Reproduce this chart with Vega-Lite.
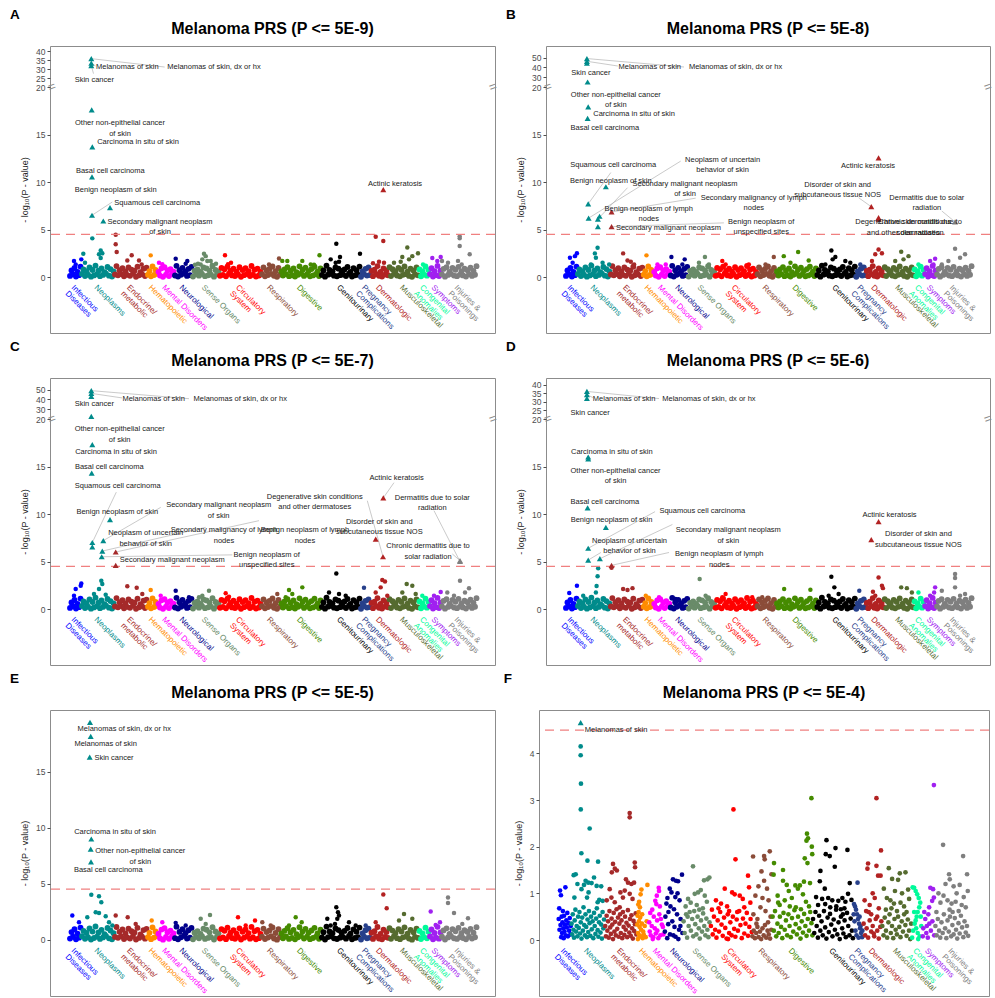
{
"$schema":"https://vega.github.io/schema/vega-lite/v6.json",
"background":"white",
"padding":{"left":10,"top":8,"right":0,"bottom":0},
"config":{
 "font":"Liberation Sans",
 "view":{"stroke":"#8C8C8C","strokeWidth":1},
 "axisY":{"grid":false,"domain":false,"tickSize":3,"tickColor":"#4D4D4D","labelFontSize":8.5,"labelColor":"#4D4D4D","labelPadding":2,"titleFontSize":9,"titleFontWeight":"normal","titleColor":"#1A1A1A","titlePadding":6},
 "title":{"fontSize":16,"fontWeight":"bold","color":"#000000"},
 "circle":{"size":20,"opacity":1},
 "concat":{"spacing":8}
},
"datasets":{
"cats":[{"n":"Infectious\nDiseases","x":25.3,"ya":-0.7,"ye":-0.62,"yf":-0.15},{"n":"Neoplasms","x":48.3,"ya":-0.7,"ye":-0.62,"yf":-0.15},{"n":"Endocrine/\nmetabolic","x":80.8,"ya":-0.7,"ye":-0.62,"yf":-0.15},{"n":"Hematopoietic","x":102.5,"ya":-0.7,"ye":-0.62,"yf":-0.15},{"n":"Mental Disorders","x":116.1,"ya":-0.7,"ye":-0.62,"yf":-0.15},{"n":"Neurological","x":133.2,"ya":-0.7,"ye":-0.62,"yf":-0.15},{"n":"Sense Organs","x":155.6,"ya":-0.7,"ye":-0.62,"yf":-0.15},{"n":"Circulatory\nSystem","x":189.8,"ya":-0.7,"ye":-0.62,"yf":-0.15},{"n":"Respiratory","x":220.7,"ya":-0.7,"ye":-0.62,"yf":-0.15},{"n":"Digestive","x":250.7,"ya":-0.7,"ye":-0.62,"yf":-0.15},{"n":"Genitourinary","x":290.7,"ya":-0.7,"ye":-0.62,"yf":-0.15},{"n":"Pregnancy\nComplications","x":315.7,"ya":-0.7,"ye":-0.62,"yf":-0.15},{"n":"Dermatologic","x":329.8,"ya":-0.7,"ye":-0.62,"yf":-0.15},{"n":"Musculoskeletal","x":353.7,"ya":-0.7,"ye":-0.62,"yf":-0.15},{"n":"Congenital\nAnomalies","x":373.7,"ya":-0.7,"ye":-0.62,"yf":-0.15},{"n":"Symptoms","x":385.3,"ya":-0.7,"ye":-0.62,"yf":-0.15},{"n":"Injuries &\nPoisonings","x":408.3,"ya":-0.7,"ye":-0.62,"yf":-0.15}],
"brk":[{"x":2,"y":20},{"x":443,"y":20}],
"base":[{"x":20,"y":0.12},{"x":21.5,"y":0.7},{"x":23,"y":0.28},{"x":24.5,"y":0.95},{"x":26,"y":0.06},{"x":27.5,"y":0.55},{"x":29,"y":0.2},{"x":30.5,"y":1.1},{"x":32,"y":0.33},{"x":33.5,"y":0.8},{"x":35,"y":0.1},{"x":36.5,"y":0.62},{"x":38,"y":0.24},{"x":39.5,"y":1.02},{"x":41,"y":0.04},{"x":42.5,"y":0.74},{"x":44,"y":0.17},{"x":45.5,"y":1.2},{"x":47,"y":0.3},{"x":48.5,"y":0.66},{"x":50,"y":0.09},{"x":51.5,"y":0.9},{"x":53,"y":0.22},{"x":54.5,"y":0.52},{"x":56,"y":0.36},{"x":57.5,"y":1.06},{"x":59,"y":0.14},{"x":60.5,"y":0.84},{"x":62,"y":0.05},{"x":63.5,"y":0.6},{"x":65,"y":0.27},{"x":66.5,"y":1.15},{"x":68,"y":0.19},{"x":69.5,"y":0.72},{"x":71,"y":0.32},{"x":72.5,"y":0.93},{"x":74,"y":0.08},{"x":75.5,"y":0.58},{"x":77,"y":0.23},{"x":78.5,"y":1.0},{"x":80,"y":0.13},{"x":81.5,"y":0.78},{"x":83,"y":0.35},{"x":84.5,"y":0.67},{"x":86,"y":0.03},{"x":87.5,"y":1.08},{"x":89,"y":0.18},{"x":90.5,"y":0.5},{"x":92,"y":0.29},{"x":93.5,"y":0.88},{"x":95,"y":0.11},{"x":96.5,"y":0.98},{"x":98,"y":0.25},{"x":99.5,"y":0.63},{"x":101,"y":0.07},{"x":102.5,"y":1.12},{"x":104,"y":0.21},{"x":105.5,"y":0.76},{"x":107,"y":0.34},{"x":108.5,"y":0.55},{"x":110,"y":0.15},{"x":111.5,"y":0.92},{"x":113,"y":0.02},{"x":114.5,"y":1.04},{"x":116,"y":0.26},{"x":117.5,"y":0.69},{"x":119,"y":0.1},{"x":120.5,"y":0.83},{"x":122,"y":0.31},{"x":123.5,"y":0.57},{"x":125,"y":0.16},{"x":126.5,"y":1.18},{"x":128,"y":0.06},{"x":129.5,"y":0.71},{"x":131,"y":0.23},{"x":132.5,"y":0.96},{"x":134,"y":0.37},{"x":135.5,"y":0.6},{"x":137,"y":0.12},{"x":138.5,"y":0.86},{"x":140,"y":0.2},{"x":141.5,"y":1.07},{"x":143,"y":0.05},{"x":144.5,"y":0.65},{"x":146,"y":0.28},{"x":147.5,"y":0.79},{"x":149,"y":0.14},{"x":150.5,"y":0.53},{"x":152,"y":0.33},{"x":153.5,"y":1.0},{"x":155,"y":0.09},{"x":156.5,"y":0.91},{"x":158,"y":0.18},{"x":159.5,"y":0.68},{"x":161,"y":0.25},{"x":162.5,"y":1.14},{"x":164,"y":0.04},{"x":165.5,"y":0.75},{"x":167,"y":0.3},{"x":168.5,"y":0.59},{"x":170,"y":0.13},{"x":171.5,"y":0.97},{"x":173,"y":0.22},{"x":174.5,"y":0.82},{"x":176,"y":0.07},{"x":177.5,"y":1.09},{"x":179,"y":0.35},{"x":180.5,"y":0.64},{"x":182,"y":0.17},{"x":183.5,"y":0.87},{"x":185,"y":0.1},{"x":186.5,"y":0.56},{"x":188,"y":0.27},{"x":189.5,"y":1.03},{"x":191,"y":0.03},{"x":192.5,"y":0.73},{"x":194,"y":0.2},{"x":195.5,"y":0.94},{"x":197,"y":0.32},{"x":198.5,"y":0.61},{"x":200,"y":0.11},{"x":201.5,"y":1.16},{"x":203,"y":0.24},{"x":204.5,"y":0.77},{"x":206,"y":0.06},{"x":207.5,"y":0.89},{"x":209,"y":0.16},{"x":210.5,"y":0.54},{"x":212,"y":0.29},{"x":213.5,"y":1.01},{"x":215,"y":0.08},{"x":216.5,"y":0.7},{"x":218,"y":0.21},{"x":219.5,"y":0.85},{"x":221,"y":0.34},{"x":222.5,"y":1.11},{"x":224,"y":0.13},{"x":225.5,"y":0.62},{"x":227,"y":0.02},{"x":228.5,"y":0.95},{"x":230,"y":0.26},{"x":231.5,"y":0.58},{"x":233,"y":0.15},{"x":234.5,"y":0.81},{"x":236,"y":0.31},{"x":237.5,"y":1.05},{"x":239,"y":0.09},{"x":240.5,"y":0.67},{"x":242,"y":0.19},{"x":243.5,"y":0.9},{"x":245,"y":0.05},{"x":246.5,"y":0.52},{"x":248,"y":0.23},{"x":249.5,"y":1.13},{"x":251,"y":0.36},{"x":252.5,"y":0.74},{"x":254,"y":0.12},{"x":255.5,"y":0.99},{"x":257,"y":0.28},{"x":258.5,"y":0.63},{"x":260,"y":0.07},{"x":261.5,"y":0.84},{"x":263,"y":0.17},{"x":264.5,"y":1.08},{"x":266,"y":0.3},{"x":267.5,"y":0.57},{"x":269,"y":0.1},{"x":270.5,"y":0.92},{"x":272,"y":0.22},{"x":273.5,"y":0.69},{"x":275,"y":0.04},{"x":276.5,"y":1.19},{"x":278,"y":0.25},{"x":279.5,"y":0.76},{"x":281,"y":0.33},{"x":282.5,"y":0.6},{"x":284,"y":0.14},{"x":285.5,"y":1.02},{"x":287,"y":0.08},{"x":288.5,"y":0.88},{"x":290,"y":0.2},{"x":291.5,"y":0.65},{"x":293,"y":0.27},{"x":294.5,"y":0.8},{"x":296,"y":0.11},{"x":297.5,"y":1.06},{"x":299,"y":0.35},{"x":300.5,"y":0.55},{"x":302,"y":0.06},{"x":303.5,"y":0.94},{"x":305,"y":0.18},{"x":306.5,"y":0.72},{"x":308,"y":0.24},{"x":309.5,"y":1.1},{"x":311,"y":0.03},{"x":312.5,"y":0.59},{"x":314,"y":0.29},{"x":315.5,"y":0.86},{"x":317,"y":0.15},{"x":318.5,"y":1.0},{"x":320,"y":0.21},{"x":321.5,"y":0.64},{"x":323,"y":0.09},{"x":324.5,"y":0.78},{"x":326,"y":0.32},{"x":327.5,"y":1.15},{"x":329,"y":0.13},{"x":330.5,"y":0.53},{"x":332,"y":0.05},{"x":333.5,"y":0.91},{"x":335,"y":0.26},{"x":336.5,"y":0.7},{"x":338,"y":0.19},{"x":339.5,"y":1.04},{"x":341,"y":0.1},{"x":342.5,"y":0.83},{"x":344,"y":0.34},{"x":345.5,"y":0.61},{"x":347,"y":0.16},{"x":348.5,"y":0.97},{"x":350,"y":0.07},{"x":351.5,"y":0.75},{"x":353,"y":0.23},{"x":354.5,"y":1.12},{"x":356,"y":0.3},{"x":357.5,"y":0.56},{"x":359,"y":0.12},{"x":360.5,"y":0.89},{"x":362,"y":0.02},{"x":363.5,"y":0.68},{"x":365,"y":0.27},{"x":366.5,"y":1.01},{"x":368,"y":0.18},{"x":369.5,"y":0.8},{"x":371,"y":0.08},{"x":372.5,"y":0.58},{"x":374,"y":0.25},{"x":375.5,"y":1.09},{"x":377,"y":0.14},{"x":378.5,"y":0.73},{"x":380,"y":0.31},{"x":381.5,"y":0.93},{"x":383,"y":0.06},{"x":384.5,"y":0.62},{"x":386,"y":0.2},{"x":387.5,"y":1.17},{"x":389,"y":0.11},{"x":390.5,"y":0.66},{"x":392,"y":0.28},{"x":393.5,"y":0.85},{"x":395,"y":0.04},{"x":396.5,"y":1.03},{"x":398,"y":0.22},{"x":399.5,"y":0.54},{"x":401,"y":0.33},{"x":402.5,"y":0.96},{"x":404,"y":0.15},{"x":405.5,"y":0.77},{"x":407,"y":0.09},{"x":408.5,"y":1.07},{"x":410,"y":0.26},{"x":411.5,"y":0.6},{"x":413,"y":0.17},{"x":414.5,"y":0.87},{"x":416,"y":0.05},{"x":417.5,"y":0.71},{"x":419,"y":0.3},{"x":420.5,"y":0.98},{"x":422,"y":0.12},{"x":423.5,"y":0.65},{"x":425,"y":0.24},{"x":426.5,"y":1.14}],
"eA":[{"x":42.3,"y":4.07},{"x":65.7,"y":4.45},{"x":65.7,"y":3.44},{"x":66.7,"y":2.63},{"x":50.7,"y":2.8},{"x":49,"y":2.4},{"x":52.3,"y":2.5},{"x":33.3,"y":2.45},{"x":50.7,"y":2.0},{"x":24,"y":1.68},{"x":31.3,"y":1.86},{"x":25.7,"y":1.33},{"x":35,"y":1.5},{"x":81.7,"y":2.3},{"x":89,"y":1.75},{"x":77.3,"y":1.75},{"x":91.7,"y":1.33},{"x":100.7,"y":2.28},{"x":109,"y":1.5},{"x":112.3,"y":1.35},{"x":125.7,"y":1.93},{"x":137.3,"y":1.68},{"x":135.7,"y":1.4},{"x":154,"y":2.45},{"x":155.7,"y":2.2},{"x":152.3,"y":1.86},{"x":157.3,"y":1.68},{"x":150.7,"y":1.33},{"x":160.7,"y":1.68},{"x":148,"y":1.4},{"x":162,"y":1.3},{"x":145,"y":1.3},{"x":166,"y":1.4},{"x":175,"y":2.3},{"x":178,"y":1.35},{"x":181,"y":1.5},{"x":219,"y":1.33},{"x":229,"y":1.96},{"x":269.5,"y":2.3},{"x":232.3,"y":1.7},{"x":237.3,"y":1.68},{"x":252.3,"y":1.7},{"x":260.7,"y":1.33},{"x":264,"y":1.3},{"x":286.3,"y":3.5},{"x":310,"y":2.45},{"x":290,"y":2.1},{"x":280.7,"y":1.86},{"x":285.7,"y":1.5},{"x":289,"y":1.6},{"x":325.7,"y":4.25},{"x":333.3,"y":3.8},{"x":323,"y":1.45},{"x":329,"y":1.6},{"x":334,"y":1.5},{"x":357.3,"y":3.1},{"x":368,"y":2.5},{"x":352.3,"y":2.1},{"x":362.3,"y":2.2},{"x":344,"y":1.5},{"x":350.7,"y":1.6},{"x":359,"y":1.86},{"x":373,"y":1.33},{"x":375.7,"y":1.2},{"x":382.3,"y":2.0},{"x":390.7,"y":2.1},{"x":387.3,"y":1.68},{"x":409.7,"y":4.3},{"x":409.7,"y":4.07},{"x":409.7,"y":3.26},{"x":419.7,"y":2.4},{"x":398,"y":1.5},{"x":408,"y":1.7},{"x":411.7,"y":1.33},{"x":392,"y":1.68}],
"eB":[{"x":24,"y":2.04},{"x":29,"y":2.2},{"x":31,"y":2.5},{"x":26.7,"y":1.5},{"x":51.7,"y":3.09},{"x":49,"y":2.49},{"x":50,"y":2.04},{"x":45,"y":1.33},{"x":56.7,"y":1.5},{"x":63.3,"y":1.33},{"x":77.3,"y":2.49},{"x":81.7,"y":1.75},{"x":85,"y":1.6},{"x":88.3,"y":1.33},{"x":100.7,"y":2.28},{"x":111.7,"y":1.33},{"x":120,"y":1.33},{"x":125.7,"y":2.1},{"x":139,"y":1.86},{"x":136.7,"y":1.33},{"x":159.3,"y":2.1},{"x":153.3,"y":1.5},{"x":163.3,"y":1.33},{"x":176.7,"y":1.68},{"x":180,"y":1.33},{"x":203.3,"y":1.33},{"x":228.3,"y":2.1},{"x":220,"y":1.33},{"x":252.7,"y":2.63},{"x":238.3,"y":2.2},{"x":263.3,"y":1.75},{"x":245,"y":1.5},{"x":286,"y":2.8},{"x":290,"y":2.1},{"x":300,"y":1.68},{"x":305,"y":1.5},{"x":280,"y":1.33},{"x":287.3,"y":1.86},{"x":315,"y":1.33},{"x":333.3,"y":2.9},{"x":330,"y":2.4},{"x":336.7,"y":2.5},{"x":326.7,"y":1.68},{"x":356,"y":2.66},{"x":363.3,"y":2.2},{"x":350,"y":1.68},{"x":358.3,"y":1.86},{"x":373.3,"y":1.33},{"x":390,"y":1.93},{"x":385,"y":1.68},{"x":388.3,"y":1.33},{"x":410,"y":2.98},{"x":420,"y":2.39},{"x":415,"y":2.04},{"x":403.3,"y":1.68},{"x":396.7,"y":1.33}],
"eC":[{"x":286.3,"y":3.75},{"x":51.3,"y":2.98},{"x":52.3,"y":2.63},{"x":49,"y":2.1},{"x":44,"y":1.58},{"x":55.7,"y":1.5},{"x":30.7,"y":2.46},{"x":31.3,"y":2.7},{"x":25.7,"y":2.1},{"x":24,"y":1.4},{"x":77.3,"y":2.39},{"x":86.7,"y":2.25},{"x":92.3,"y":1.58},{"x":100.7,"y":2.0},{"x":110.7,"y":1.4},{"x":125.7,"y":1.93},{"x":139,"y":1.23},{"x":159,"y":1.93},{"x":152.3,"y":1.4},{"x":149,"y":1.23},{"x":175.7,"y":1.65},{"x":179,"y":1.3},{"x":227.3,"y":1.58},{"x":252.3,"y":2.28},{"x":239,"y":2.0},{"x":242.3,"y":1.58},{"x":235.7,"y":1.23},{"x":279,"y":1.75},{"x":289,"y":1.58},{"x":295.7,"y":1.4},{"x":314,"y":2.25},{"x":332.3,"y":3.05},{"x":335,"y":2.9},{"x":330.7,"y":2.28},{"x":325.7,"y":1.75},{"x":337.3,"y":1.4},{"x":356.7,"y":2.63},{"x":362.3,"y":2.46},{"x":352.3,"y":1.75},{"x":365.7,"y":1.58},{"x":372.3,"y":1.4},{"x":390.7,"y":1.79},{"x":384,"y":1.4},{"x":410,"y":2.98},{"x":419,"y":2.18},{"x":415,"y":1.75},{"x":397.3,"y":1.75},{"x":404,"y":1.4}],
"eD":[{"x":286,"y":3.4},{"x":289,"y":2.28},{"x":293.3,"y":1.58},{"x":283.3,"y":1.4},{"x":333.3,"y":3.33},{"x":336.7,"y":2.46},{"x":337.7,"y":2.2},{"x":327.7,"y":1.82},{"x":330,"y":1.4},{"x":410,"y":3.68},{"x":410,"y":3.26},{"x":410,"y":2.28},{"x":420,"y":1.58},{"x":396.7,"y":1.93},{"x":415,"y":1.4},{"x":154,"y":3.16},{"x":160,"y":1.4},{"x":51.7,"y":3.44},{"x":50.7,"y":2.42},{"x":50,"y":1.75},{"x":52.3,"y":4.3},{"x":65.7,"y":4.35},{"x":37.3,"y":1.4},{"x":31,"y":2.46},{"x":23.3,"y":1.68},{"x":77.3,"y":2.1},{"x":86.7,"y":2.2},{"x":81.7,"y":2.0},{"x":100,"y":1.4},{"x":113.3,"y":1.23},{"x":130,"y":1.05},{"x":356,"y":2.28},{"x":361.7,"y":2.2},{"x":366.7,"y":1.75},{"x":390,"y":2.28},{"x":389,"y":1.75},{"x":385,"y":1.4},{"x":238.7,"y":2.1},{"x":265,"y":2.03},{"x":373.3,"y":1.75},{"x":180,"y":1.58},{"x":176.7,"y":1.23},{"x":206.7,"y":1.23},{"x":314,"y":1.93},{"x":216.7,"y":1.23}],
"eE":[{"x":41.3,"y":4.02},{"x":49,"y":3.9},{"x":51.3,"y":3.36},{"x":65.7,"y":2.17},{"x":45.7,"y":2.47},{"x":49,"y":2.41},{"x":37.3,"y":2.02},{"x":55.7,"y":2.11},{"x":59,"y":1.58},{"x":62.3,"y":1.28},{"x":22.3,"y":2.17},{"x":29,"y":1.58},{"x":77.7,"y":2.02},{"x":85.7,"y":1.43},{"x":101.7,"y":1.73},{"x":112.3,"y":1.58},{"x":125.7,"y":1.52},{"x":135.7,"y":1.28},{"x":160,"y":2.23},{"x":150.7,"y":1.88},{"x":155.7,"y":1.43},{"x":188,"y":2.02},{"x":205,"y":1.73},{"x":195.7,"y":1.28},{"x":212.3,"y":1.58},{"x":220.7,"y":1.28},{"x":245.7,"y":2.02},{"x":251.7,"y":1.58},{"x":239,"y":1.28},{"x":286.3,"y":2.92},{"x":288,"y":2.47},{"x":289,"y":2.17},{"x":287.3,"y":1.88},{"x":285,"y":1.43},{"x":277.3,"y":1.88},{"x":280.7,"y":1.28},{"x":305.7,"y":1.28},{"x":299,"y":1.58},{"x":315.7,"y":1.28},{"x":333.3,"y":4.05},{"x":336.7,"y":2.83},{"x":325.7,"y":1.58},{"x":354,"y":2.32},{"x":362.3,"y":1.88},{"x":349,"y":1.73},{"x":380.7,"y":2.53},{"x":390,"y":1.58},{"x":385.7,"y":1.34},{"x":398,"y":3.78},{"x":398,"y":3.3},{"x":404,"y":2.41},{"x":418,"y":1.93},{"x":412.3,"y":1.43}],
"sA":[{"x":41.3,"y":35.9,"t":"Melanomas of skin, dx or hx","lx":164,"ly":31.2,"sx":114.7,"sy":31.2},{"x":41.3,"y":33.4,"t":"Melanomas of skin","lx":77.3,"ly":31.2,"sx":45.5,"sy":31.8},{"x":41.3,"y":32.0,"t":"Skin cancer","lx":44.3,"ly":23.8,"sx":43.5,"sy":27.5},{"x":41.7,"y":17.6,"t":"Other non-epithelial cancer\nof skin","lx":70,"ly":16.2},{"x":42.3,"y":13.7,"t":"Carcinoma in situ of skin","lx":88,"ly":14.2},{"x":42,"y":10.55,"t":"Basal cell carcinoma","lx":60.3,"ly":11.2},{"x":60,"y":7.3,"t":"Benign neoplasm of skin","lx":65.7,"ly":9.2},{"x":42,"y":6.5,"t":"Squamous cell carcinoma","lx":107.3,"ly":7.8,"sx":62.3,"sy":7.9},{"x":53.3,"y":5.9,"t":"Secondary malignant neoplasm\nof skin","lx":110,"ly":5.8},{"x":333.3,"y":9.2,"t":"Actinic keratosis","lx":345,"ly":9.8}],
"sB":[{"x":41,"y":49,"t":"Melanomas of skin, dx or hx","lx":190,"ly":40.4,"sx":138.3,"sy":40.4},{"x":41,"y":46.2,"t":"Melanomas of skin","lx":104,"ly":40.4,"sx":72,"sy":41.4},{"x":41,"y":44.2,"t":"Skin cancer","lx":45,"ly":34.7},{"x":41.7,"y":25.1,"t":"Other non-epithelial cancer\nof skin","lx":70,"ly":19.2},{"x":42.3,"y":17.9,"t":"Carcinoma in situ of skin","lx":88.3,"ly":17.2},{"x":41.7,"y":16.7,"t":"Basal cell carcinoma","lx":59,"ly":15.7},{"x":42.3,"y":7.7,"t":"Squamous cell carcinoma","lx":67.3,"ly":11.8,"sx":65,"sy":11.0},{"x":60,"y":9.5,"t":"Benign neoplasm of skin","lx":65,"ly":10.1},{"x":42.7,"y":6.2,"t":"Neoplasm of uncertain\nbehavior of skin","lx":177,"ly":12.35,"sx":135,"sy":12.2},{"x":52,"y":6.1,"t":"Secondary malignant neoplasm\nof skin","lx":139.3,"ly":9.8,"sx":81.7,"sy":9.4},{"x":65.7,"y":6.85,"t":"Secondary malignancy of lymph\nnodes","lx":208.3,"ly":8.35,"sx":150,"sy":8.3},{"x":53.7,"y":6.4,"t":"Benign neoplasm of lymph\nnodes","lx":103,"ly":7.2},{"x":65.7,"y":5.3,"t":"Benign neoplasm of\nunspecified sites","lx":215.7,"ly":5.8,"sx":178.3,"sy":5.7},{"x":52,"y":5.3,"t":"Secondary malignant neoplasm","lx":122.7,"ly":5.2},{"x":333.3,"y":12.55,"t":"Actinic keratosis","lx":322.7,"ly":11.7},{"x":326,"y":7.4,"t":"Disorder of skin and\nsubcutaneous tissue NOS","lx":292.3,"ly":9.7,"sx":313.3,"sy":8.35},{"x":333.3,"y":6.1,"t":"Degenerative skin conditions\nand other dermatoses","lx":358,"ly":5.75},{"x":333.3,"y":6.25,"t":"Chronic dermatitis due to\nsolar radiation","lx":375,"ly":5.75},{"x":410,"y":5.8,"t":"Dermatitis due to solar\nradiation","lx":381.7,"ly":8.35,"sx":396.7,"sy":6.95}],
"sC":[{"x":41.3,"y":48.9,"t":"Melanomas of skin, dx or hx","lx":190.3,"ly":40.7,"sx":139,"sy":40.7},{"x":41.3,"y":46.1,"t":"Melanomas of skin","lx":103.7,"ly":40.7,"sx":72,"sy":41.5},{"x":41.3,"y":43.1,"t":"Skin cancer","lx":44.3,"ly":34.9},{"x":41.3,"y":22.7,"t":"Other non-epithelial cancer\nof skin","lx":69.7,"ly":18.9},{"x":42.3,"y":17.3,"t":"Carcinoma in situ of skin","lx":66,"ly":16.5},{"x":41.7,"y":14.3,"t":"Basal cell carcinoma","lx":59.3,"ly":15.0},{"x":42.3,"y":7.0,"t":"Squamous cell carcinoma","lx":67.7,"ly":12.9,"sx":66.3,"sy":12.3},{"x":60,"y":9.4,"t":"Benign neoplasm of skin","lx":67.3,"ly":10.2},{"x":53.3,"y":7.2,"t":"Secondary malignant neoplasm\nof skin","lx":168.7,"ly":10.9,"sx":110.7,"sy":10.7},{"x":42.3,"y":6.55,"t":"Neoplasm of uncertain\nbehavior of skin","lx":95.7,"ly":8.0},{"x":52.3,"y":6.1,"t":"Secondary malignancy of lymph\nnodes","lx":174,"ly":8.3,"sx":155.7,"sy":8.6},{"x":65.7,"y":6.0,"t":"Benign neoplasm of lymph\nnodes","lx":255,"ly":8.3,"sx":209,"sy":9.3},{"x":51.7,"y":5.5,"t":"Benign neoplasm of\nunspecified sites","lx":216.7,"ly":5.7,"sx":182.3,"sy":5.7},{"x":65.7,"y":4.6,"t":"Secondary malignant neoplasm","lx":122.3,"ly":5.2},{"x":333.3,"y":11.7,"t":"Actinic keratosis","lx":346.7,"ly":13.8,"sx":344,"sy":13.3},{"x":333,"y":5.5,"t":"Degenerative skin conditions\nand other dermatoses","lx":264.7,"ly":11.8,"sx":317.3,"sy":11.4},{"x":325.7,"y":7.35,"t":"Disorder of skin and\nsubcutaneous tissue NOS","lx":329.3,"ly":9.2},{"x":410,"y":5.0,"t":"Dermatitis due to solar\nradiation","lx":382.3,"ly":11.7,"sx":384,"sy":10.35},{"x":410,"y":5.1,"t":"Chronic dermatitis due to\nsolar radiation","lx":378,"ly":6.6,"sx":402.3,"sy":5.8}],
"sD":[{"x":41,"y":36.2,"t":"Melanomas of skin, dx or hx","lx":163.3,"ly":32.0,"sx":113.3,"sy":32.0},{"x":41,"y":34.3,"t":"Melanomas of skin","lx":78.3,"ly":32.0,"sx":47,"sy":32.6},{"x":41,"y":32.1,"t":"Skin cancer","lx":44.3,"ly":23.5},{"x":42.3,"y":16.0,"t":"Carcinoma in situ of skin","lx":66,"ly":16.55},{"x":42.3,"y":15.8,"t":"Other non-epithelial cancer\nof skin","lx":69.7,"ly":14.55},{"x":41.7,"y":10.65,"t":"Basal cell carcinoma","lx":59,"ly":11.3},{"x":42.3,"y":6.4,"t":"Squamous cell carcinoma","lx":156.7,"ly":10.3,"sx":109.3,"sy":10.25},{"x":60,"y":8.6,"t":"Benign neoplasm of skin","lx":65.7,"ly":9.4},{"x":54,"y":5.3,"t":"Secondary malignant neoplasm\nof skin","lx":182.7,"ly":8.3,"sx":126.7,"sy":8.9},{"x":42.3,"y":5.15,"t":"Neoplasm of uncertain\nbehavior of skin","lx":83.7,"ly":7.2,"sx":55,"sy":5.95},{"x":65.7,"y":4.6,"t":"Benign neoplasm of lymph\nnodes","lx":173.7,"ly":5.75,"sx":123.3,"sy":5.95},{"x":333.3,"y":9.2,"t":"Actinic keratosis","lx":344.3,"ly":9.9},{"x":326,"y":7.3,"t":"Disorder of skin and\nsubcutaneous tissue NOS","lx":373.3,"ly":7.85}],
"sE":[{"x":40,"y":19.4,"t":"Melanomas of skin, dx or hx","lx":74.3,"ly":18.8},{"x":40.7,"y":18.15,"t":"Melanomas of skin","lx":55.7,"ly":17.5},{"x":39.7,"y":16.3,"t":"Skin cancer","lx":64,"ly":16.25},{"x":41.3,"y":9.0,"t":"Carcinoma in situ of skin","lx":65,"ly":9.6},{"x":40.7,"y":8.1,"t":"Other non-epithelial cancer\nof skin","lx":90.3,"ly":7.9},{"x":41,"y":6.95,"t":"Basal cell carcinoma","lx":58.3,"ly":6.2}],
"sF":[{"x":41.2,"y":4.66,"t":"Melanomas of skin","lx":76.2,"ly":4.5}],
"f":[{"x":19.5,"y":0.45},{"x":20,"y":0.68},{"x":20.3,"y":0.22},{"x":20.8,"y":1.06},{"x":21.3,"y":0.32},{"x":21.7,"y":0.96},{"x":22,"y":0.06},{"x":22.4,"y":0.5},{"x":22.8,"y":0.15},{"x":23.2,"y":0.38},{"x":23.6,"y":0.62},{"x":24,"y":0.25},{"x":24.4,"y":0.04},{"x":24.8,"y":0.52},{"x":25.2,"y":0.18},{"x":25.6,"y":0.33},{"x":26.1,"y":1.13},{"x":26.5,"y":0.1},{"x":27,"y":0.42},{"x":27.5,"y":0.27},{"x":28,"y":0.58},{"x":28.6,"y":0.08},{"x":29.2,"y":0.36},{"x":29.8,"y":0.2},{"x":30.4,"y":0.47},{"x":31,"y":0.12},{"x":31.4,"y":0.3},
{"x":34.3,"y":1.39},{"x":36.3,"y":1.41},{"x":38,"y":1.2},{"x":41.2,"y":4.15},{"x":41.2,"y":3.96},{"x":41.5,"y":3.35},{"x":41.3,"y":2.8},{"x":50.1,"y":2.39},{"x":41.9,"y":1.86},{"x":47.9,"y":1.7},{"x":58.4,"y":1.68},{"x":46.1,"y":1.27},{"x":48.7,"y":1.23},{"x":52,"y":1.22},{"x":54.4,"y":1.34},{"x":42,"y":1.09},{"x":57,"y":1.16},{"x":35,"y":0.91},{"x":47.5,"y":0.91},{"x":49,"y":1.02},{"x":59.6,"y":0.86},{"x":58,"y":0.81},{"x":63,"y":0.84},{"x":61.5,"y":1.15},{"x":44.5,"y":1.18},
{"x":32.2,"y":0.35},{"x":32.8,"y":0.12},{"x":33.4,"y":0.55},{"x":34,"y":0.22},{"x":34.6,"y":0.05},{"x":35.3,"y":0.42},{"x":36,"y":0.65},{"x":36.6,"y":0.18},{"x":37.3,"y":0.3},{"x":38,"y":0.08},{"x":38.7,"y":0.5},{"x":39.3,"y":0.26},{"x":40,"y":0.6},{"x":40.6,"y":0.14},{"x":41.3,"y":0.38},{"x":42,"y":0.03},{"x":42.7,"y":0.48},{"x":43.4,"y":0.2},{"x":44,"y":0.7},{"x":44.7,"y":0.32},{"x":45.4,"y":0.1},{"x":46,"y":0.55},{"x":46.7,"y":0.28},{"x":47.4,"y":0.06},{"x":48,"y":0.44},{"x":48.7,"y":0.17},{"x":49.4,"y":0.62},{"x":50,"y":0.36},{"x":50.8,"y":0.09},{"x":51.5,"y":0.5},{"x":52.2,"y":0.23},{"x":53,"y":0.4},{"x":53.7,"y":0.04},{"x":54.4,"y":0.58},{"x":55.1,"y":0.3},{"x":55.8,"y":0.13},{"x":56.5,"y":0.46},{"x":57.2,"y":0.68},{"x":58,"y":0.21},{"x":58.7,"y":0.07},{"x":59.4,"y":0.38},{"x":60.1,"y":0.52},{"x":60.8,"y":0.16},{"x":61.5,"y":0.33},{"x":62.2,"y":0.03},{"x":62.9,"y":0.6},{"x":63.6,"y":0.25},{"x":64.3,"y":0.44},
{"x":89.7,"y":2.72},{"x":89.7,"y":2.63},{"x":73.2,"y":1.63},{"x":75,"y":1.53},{"x":72,"y":1.45},{"x":77,"y":1.49},{"x":94.7,"y":1.66},{"x":95,"y":1.56},{"x":94,"y":1.23},{"x":91.4,"y":1.2},{"x":88,"y":1.23},{"x":84.8,"y":1.06},{"x":89.7,"y":0.99},{"x":83,"y":0.91},{"x":69.9,"y":1.09},{"x":71.6,"y":0.91},{"x":74.9,"y":0.81},{"x":79.8,"y":0.7},{"x":67,"y":0.85},{"x":86,"y":1.3},{"x":92.5,"y":0.88},{"x":80.5,"y":1.02},
{"x":65.5,"y":0.3},{"x":66.2,"y":0.08},{"x":66.9,"y":0.52},{"x":67.6,"y":0.2},{"x":68.3,"y":0.4},{"x":69,"y":0.05},{"x":69.7,"y":0.62},{"x":70.4,"y":0.27},{"x":71.1,"y":0.13},{"x":71.8,"y":0.46},{"x":72.5,"y":0.33},{"x":73.2,"y":0.02},{"x":73.9,"y":0.58},{"x":74.6,"y":0.18},{"x":75.3,"y":0.39},{"x":76,"y":0.1},{"x":76.7,"y":0.66},{"x":77.4,"y":0.24},{"x":78.1,"y":0.48},{"x":78.8,"y":0.07},{"x":79.5,"y":0.35},{"x":80.2,"y":0.55},{"x":80.9,"y":0.15},{"x":81.6,"y":0.42},{"x":82.3,"y":0.04},{"x":83,"y":0.6},{"x":83.7,"y":0.28},{"x":84.4,"y":0.11},{"x":85.1,"y":0.5},{"x":85.8,"y":0.22},{"x":86.5,"y":0.37},{"x":87.2,"y":0.06},{"x":87.9,"y":0.64},{"x":88.6,"y":0.31},{"x":89.3,"y":0.16},{"x":90,"y":0.45},{"x":90.7,"y":0.09},{"x":91.4,"y":0.53},{"x":92.1,"y":0.25},{"x":92.8,"y":0.03},{"x":93.5,"y":0.41},{"x":94.2,"y":0.19},{"x":94.9,"y":0.34},{"x":95.6,"y":0.57},{"x":96.3,"y":0.12},
{"x":107.2,"y":1.18},{"x":101.3,"y":1.08},{"x":100.5,"y":0.98},{"x":99,"y":0.82},{"x":98.2,"y":0.76},{"x":99.8,"y":0.7},{"x":98.5,"y":0.6},{"x":97.5,"y":0.52},{"x":100,"y":0.48},{"x":98.8,"y":0.4},{"x":97.2,"y":0.33},{"x":99.5,"y":0.28},{"x":101,"y":0.22},{"x":98,"y":0.15},{"x":100.2,"y":0.08},{"x":102.5,"y":0.04},{"x":103.5,"y":0.12},{"x":104.5,"y":0.3},{"x":102,"y":0.55},{"x":103,"y":0.18},{"x":105.5,"y":0.06},{"x":106.5,"y":0.4},{"x":101.8,"y":0.35},{"x":97.8,"y":0.02},{"x":99.2,"y":0.1},
{"x":118.4,"y":1.12},{"x":118.7,"y":1.05},{"x":116.5,"y":0.95},{"x":115,"y":0.84},{"x":116,"y":0.77},{"x":119.5,"y":0.72},{"x":112,"y":0.65},{"x":110,"y":0.58},{"x":113.5,"y":0.5},{"x":120.5,"y":0.45},{"x":109,"y":0.38},{"x":111.5,"y":0.3},{"x":114.5,"y":0.25},{"x":117,"y":0.2},{"x":121.5,"y":0.33},{"x":123,"y":0.12},{"x":110.5,"y":0.1},{"x":113,"y":0.06},{"x":115.5,"y":0.14},{"x":118,"y":0.04},{"x":120,"y":0.1},{"x":122.5,"y":0.28},{"x":109.5,"y":0.18},{"x":112.5,"y":0.02},{"x":116.8,"y":0.42},{"x":119,"y":0.55},
{"x":132.5,"y":1.3},{"x":135.5,"y":1.27},{"x":137.5,"y":1.26},{"x":141.4,"y":1.4},{"x":129.3,"y":1.1},{"x":131,"y":1.02},{"x":137,"y":1.0},{"x":127,"y":0.9},{"x":134.8,"y":0.92},{"x":139,"y":0.85},{"x":126,"y":0.78},{"x":130,"y":0.72},{"x":133.5,"y":0.66},{"x":128,"y":0.6},{"x":136.5,"y":0.55},{"x":125,"y":0.5},{"x":140,"y":0.45},{"x":131.8,"y":0.4},{"x":127.8,"y":0.34},{"x":134,"y":0.28},{"x":138.5,"y":0.22},{"x":124.5,"y":0.18},{"x":129.5,"y":0.12},{"x":135,"y":0.07},{"x":141.8,"y":0.15},{"x":126.8,"y":0.04},{"x":132.8,"y":0.1},{"x":139.8,"y":0.3},{"x":137.8,"y":0.02},
{"x":152.3,"y":1.58},{"x":168.5,"y":1.34},{"x":166.6,"y":1.3},{"x":163.2,"y":1.28},{"x":157.3,"y":1.02},{"x":154,"y":0.99},{"x":163.9,"y":0.95},{"x":147.4,"y":0.88},{"x":160,"y":1.07},{"x":145,"y":0.72},{"x":150,"y":0.8},{"x":156,"y":0.75},{"x":162,"y":0.68},{"x":166,"y":0.82},{"x":143,"y":0.4},{"x":144,"y":0.15},{"x":145.5,"y":0.55},{"x":146.5,"y":0.05},{"x":148,"y":0.3},{"x":149,"y":0.6},{"x":150.2,"y":0.2},{"x":151.5,"y":0.45},{"x":152.5,"y":0.08},{"x":153.5,"y":0.62},{"x":154.5,"y":0.34},{"x":155.6,"y":0.12},{"x":156.8,"y":0.5},{"x":158,"y":0.25},{"x":159,"y":0.03},{"x":160.2,"y":0.42},{"x":161.2,"y":0.18},{"x":162.3,"y":0.57},{"x":163.4,"y":0.3},{"x":164.5,"y":0.1},{"x":165.5,"y":0.46},{"x":166.5,"y":0.22},{"x":167.5,"y":0.06},{"x":168.6,"y":0.38},{"x":158.5,"y":0.65},{"x":147,"y":0.5},
{"x":192.3,"y":2.8},{"x":194.3,"y":1.73},{"x":206.7,"y":1.38},{"x":207.7,"y":1.13},{"x":183.7,"y":1.1},{"x":191,"y":1.02},{"x":193.5,"y":0.98},{"x":198.5,"y":0.95},{"x":201.5,"y":0.88},{"x":175,"y":0.85},{"x":180,"y":0.78},{"x":186,"y":0.72},{"x":203,"y":0.7},{"x":209,"y":0.8},{"x":171,"y":0.65},{"x":188,"y":0.62},{"x":196,"y":0.6},{"x":170,"y":0.3},{"x":171.8,"y":0.12},{"x":173,"y":0.5},{"x":174.2,"y":0.22},{"x":175.5,"y":0.05},{"x":176.7,"y":0.42},{"x":178,"y":0.18},{"x":179.2,"y":0.6},{"x":180.5,"y":0.33},{"x":181.7,"y":0.09},{"x":183,"y":0.48},{"x":184.2,"y":0.26},{"x":185.5,"y":0.03},{"x":186.7,"y":0.55},{"x":188,"y":0.15},{"x":189.2,"y":0.38},{"x":190.5,"y":0.1},{"x":191.7,"y":0.5},{"x":193,"y":0.24},{"x":194.2,"y":0.07},{"x":195.5,"y":0.44},{"x":196.7,"y":0.2},{"x":198,"y":0.62},{"x":199.2,"y":0.32},{"x":200.5,"y":0.04},{"x":201.7,"y":0.46},{"x":203,"y":0.14},{"x":204.2,"y":0.35},{"x":205.5,"y":0.58},{"x":206.7,"y":0.09},{"x":208,"y":0.28},{"x":209.2,"y":0.45},{"x":210.4,"y":0.17},{"x":177.5,"y":0.68},{"x":187,"y":0.02},
{"x":211.7,"y":1.79},{"x":228.2,"y":1.9},{"x":222.6,"y":1.8},{"x":223.2,"y":1.73},{"x":220,"y":1.47},{"x":229.9,"y":1.41},{"x":222.6,"y":1.27},{"x":217,"y":1.15},{"x":225.5,"y":1.1},{"x":214,"y":0.95},{"x":221,"y":0.9},{"x":227,"y":0.85},{"x":219,"y":0.7},{"x":224,"y":0.62},{"x":212,"y":0.55},{"x":216,"y":0.45},{"x":229,"y":0.5},{"x":211,"y":0.08},{"x":212.3,"y":0.2},{"x":213.5,"y":0.04},{"x":214.8,"y":0.15},{"x":216,"y":0.28},{"x":217.2,"y":0.06},{"x":218.5,"y":0.18},{"x":219.7,"y":0.02},{"x":221,"y":0.25},{"x":222.2,"y":0.1},{"x":223.5,"y":0.32},{"x":224.7,"y":0.05},{"x":226,"y":0.2},{"x":227.2,"y":0.12},{"x":228.5,"y":0.03},{"x":229.7,"y":0.22},{"x":215,"y":0.35},{"x":226.5,"y":0.38},
{"x":269.4,"y":3.04},{"x":265,"y":2.28},{"x":266,"y":2.18},{"x":264.5,"y":2.13},{"x":269.8,"y":2.0},{"x":270.2,"y":1.84},{"x":262.8,"y":1.75},{"x":265.5,"y":1.65},{"x":232.4,"y":1.65},{"x":241.3,"y":1.5},{"x":241.3,"y":1.27},{"x":232,"y":1.4},{"x":245,"y":1.18},{"x":253.5,"y":1.17},{"x":258,"y":1.17},{"x":262,"y":1.25},{"x":268,"y":1.22},{"x":247,"y":1.05},{"x":256,"y":1.1},{"x":261,"y":0.98},{"x":236,"y":0.95},{"x":250,"y":0.9},{"x":243,"y":0.85},{"x":264,"y":0.82},{"x":238,"y":0.75},{"x":254,"y":0.7},{"x":259,"y":0.66},{"x":267,"y":0.72},{"x":231,"y":0.5},{"x":232.2,"y":0.2},{"x":233.4,"y":0.62},{"x":234.6,"y":0.08},{"x":235.8,"y":0.35},{"x":237,"y":0.15},{"x":238.2,"y":0.5},{"x":239.4,"y":0.28},{"x":240.6,"y":0.04},{"x":241.8,"y":0.58},{"x":243,"y":0.22},{"x":244.2,"y":0.42},{"x":245.4,"y":0.1},{"x":246.6,"y":0.55},{"x":247.8,"y":0.3},{"x":249,"y":0.06},{"x":250.2,"y":0.47},{"x":251.4,"y":0.18},{"x":252.6,"y":0.64},{"x":253.8,"y":0.34},{"x":255,"y":0.12},{"x":256.2,"y":0.5},{"x":257.4,"y":0.25},{"x":258.6,"y":0.03},{"x":259.8,"y":0.4},{"x":261,"y":0.16},{"x":262.2,"y":0.56},{"x":263.4,"y":0.3},{"x":264.6,"y":0.09},{"x":265.8,"y":0.45},{"x":267,"y":0.2},{"x":268.2,"y":0.6},{"x":269.4,"y":0.36},{"x":270.4,"y":0.1},{"x":248,"y":0.72},{"x":236.5,"y":0.8},
{"x":284.3,"y":2.14},{"x":293.2,"y":1.97},{"x":283.6,"y":1.84},{"x":287.5,"y":1.8},{"x":305,"y":1.93},{"x":292.5,"y":1.57},{"x":278.3,"y":1.48},{"x":277.7,"y":1.26},{"x":307.3,"y":1.22},{"x":282.6,"y":1.1},{"x":305.6,"y":0.99},{"x":274,"y":0.92},{"x":280,"y":0.88},{"x":286,"y":0.9},{"x":290,"y":0.85},{"x":296,"y":0.84},{"x":300,"y":0.9},{"x":303,"y":0.82},{"x":309,"y":0.86},{"x":276,"y":0.75},{"x":288,"y":0.7},{"x":294,"y":0.72},{"x":298.5,"y":0.66},{"x":302,"y":0.68},{"x":271,"y":0.45},{"x":272.2,"y":0.15},{"x":273.4,"y":0.6},{"x":274.6,"y":0.3},{"x":275.8,"y":0.05},{"x":277,"y":0.52},{"x":278.2,"y":0.2},{"x":279.4,"y":0.4},{"x":280.6,"y":0.1},{"x":281.8,"y":0.62},{"x":283,"y":0.27},{"x":284.2,"y":0.03},{"x":285.4,"y":0.48},{"x":286.6,"y":0.17},{"x":287.8,"y":0.56},{"x":289,"y":0.33},{"x":290.2,"y":0.08},{"x":291.4,"y":0.44},{"x":292.6,"y":0.22},{"x":293.8,"y":0.65},{"x":295,"y":0.12},{"x":296.2,"y":0.38},{"x":297.4,"y":0.02},{"x":298.6,"y":0.5},{"x":299.8,"y":0.25},{"x":301,"y":0.14},{"x":302.2,"y":0.42},{"x":303.4,"y":0.06},{"x":304.6,"y":0.58},{"x":305.8,"y":0.3},{"x":307,"y":0.1},{"x":308.2,"y":0.46},{"x":309.4,"y":0.2},{"x":310.4,"y":0.04},{"x":283,"y":0.77},{"x":300.5,"y":0.55},
{"x":315,"y":1.23},{"x":311.5,"y":0.77},{"x":312.5,"y":0.72},{"x":313.5,"y":0.65},{"x":314.5,"y":0.55},{"x":315.5,"y":0.45},{"x":316.5,"y":0.35},{"x":317.5,"y":0.25},{"x":318.5,"y":0.15},{"x":319.5,"y":0.06},{"x":312,"y":0.4},{"x":313,"y":0.2},{"x":314,"y":0.1},{"x":316,"y":0.05},{"x":318,"y":0.3},{"x":311.2,"y":0.55},{"x":317,"y":0.5},{"x":319.8,"y":0.2},
{"x":333.7,"y":3.04},{"x":338.2,"y":1.92},{"x":325.4,"y":1.64},{"x":333.7,"y":1.59},{"x":324.8,"y":1.53},{"x":335.3,"y":1.38},{"x":337.8,"y":1.38},{"x":322,"y":0.85},{"x":330,"y":1.0},{"x":327,"y":0.75},{"x":332,"y":0.9},{"x":336,"y":0.68},{"x":323.5,"y":0.62},{"x":328.5,"y":0.55},{"x":334.5,"y":0.5},{"x":338.5,"y":0.4},{"x":321,"y":0.35},{"x":322.5,"y":0.1},{"x":324,"y":0.25},{"x":325.5,"y":0.05},{"x":327,"y":0.42},{"x":328.5,"y":0.18},{"x":330,"y":0.3},{"x":331.5,"y":0.08},{"x":333,"y":0.45},{"x":334.5,"y":0.2},{"x":336,"y":0.03},{"x":337.5,"y":0.28},{"x":326,"y":0.6},{"x":331,"y":0.14},
{"x":345.9,"y":1.54},{"x":362.4,"y":1.45},{"x":356.8,"y":1.43},{"x":349.2,"y":1.31},{"x":355.1,"y":1.29},{"x":341,"y":1.1},{"x":352,"y":1.05},{"x":359,"y":1.0},{"x":365,"y":1.08},{"x":344,"y":0.9},{"x":347.5,"y":0.85},{"x":351,"y":0.78},{"x":357.5,"y":0.8},{"x":361,"y":0.72},{"x":366,"y":0.88},{"x":343,"y":0.65},{"x":354,"y":0.62},{"x":363.5,"y":0.6},{"x":339.5,"y":0.3},{"x":340.7,"y":0.1},{"x":341.9,"y":0.48},{"x":343.1,"y":0.2},{"x":344.3,"y":0.05},{"x":345.5,"y":0.38},{"x":346.7,"y":0.55},{"x":347.9,"y":0.15},{"x":349.1,"y":0.3},{"x":350.3,"y":0.04},{"x":351.5,"y":0.45},{"x":352.7,"y":0.22},{"x":353.9,"y":0.12},{"x":355.1,"y":0.5},{"x":356.3,"y":0.28},{"x":357.5,"y":0.06},{"x":358.7,"y":0.4},{"x":359.9,"y":0.18},{"x":361.1,"y":0.55},{"x":362.3,"y":0.32},{"x":363.5,"y":0.09},{"x":364.7,"y":0.44},{"x":365.9,"y":0.2},{"x":367.1,"y":0.02},{"x":368,"y":0.35},{"x":348.5,"y":0.68},
{"x":369.5,"y":1.13},{"x":371,"y":1.12},{"x":372.5,"y":1.05},{"x":374,"y":0.98},{"x":375.5,"y":0.9},{"x":377,"y":0.8},{"x":376,"y":0.7},{"x":374.5,"y":0.6},{"x":373.5,"y":0.5},{"x":372.5,"y":0.42},{"x":371.5,"y":0.35},{"x":373,"y":0.25},{"x":374.5,"y":0.15},{"x":376.5,"y":0.08},{"x":378,"y":0.3},{"x":370,"y":0.2},{"x":369,"y":0.05},{"x":377.5,"y":0.5},{"x":375,"y":0.02},{"x":371,"y":0.6},
{"x":390.5,"y":3.32},{"x":389.7,"y":1.09},{"x":390.5,"y":0.91},{"x":388.8,"y":0.84},{"x":387,"y":1.12},{"x":385,"y":0.55},{"x":382,"y":0.45},{"x":386,"y":0.35},{"x":380,"y":0.25},{"x":383,"y":0.15},{"x":384.5,"y":0.05},{"x":381,"y":0.6},{"x":387.5,"y":0.2},{"x":389,"y":0.4},{"x":390.8,"y":0.1},{"x":379.5,"y":0.08},{"x":385.8,"y":0.7},{"x":383.5,"y":0.3},
{"x":399.6,"y":2.04},{"x":419.4,"y":1.8},{"x":423.3,"y":1.41},{"x":405.5,"y":1.41},{"x":406.2,"y":1.3},{"x":402,"y":1.2},{"x":410,"y":1.15},{"x":416,"y":1.18},{"x":395,"y":1.0},{"x":400,"y":0.95},{"x":413,"y":1.0},{"x":420,"y":0.92},{"x":424,"y":1.05},{"x":397,"y":0.8},{"x":404,"y":0.85},{"x":408,"y":0.78},{"x":412,"y":0.82},{"x":418,"y":0.75},{"x":422,"y":0.7},{"x":393,"y":0.6},{"x":406,"y":0.65},{"x":415,"y":0.62},{"x":392,"y":0.3},{"x":393.2,"y":0.1},{"x":394.4,"y":0.45},{"x":395.6,"y":0.2},{"x":396.8,"y":0.05},{"x":398,"y":0.38},{"x":399.2,"y":0.15},{"x":400.4,"y":0.55},{"x":401.6,"y":0.25},{"x":402.8,"y":0.04},{"x":404,"y":0.42},{"x":405.2,"y":0.18},{"x":406.4,"y":0.5},{"x":407.6,"y":0.08},{"x":408.8,"y":0.32},{"x":410,"y":0.12},{"x":411.2,"y":0.47},{"x":412.4,"y":0.22},{"x":413.6,"y":0.03},{"x":414.8,"y":0.36},{"x":416,"y":0.14},{"x":417.2,"y":0.52},{"x":418.4,"y":0.27},{"x":419.6,"y":0.06},{"x":420.8,"y":0.4},{"x":422,"y":0.16},{"x":423.2,"y":0.3},{"x":424.4,"y":0.09},{"x":409,"y":0.6}]
},
"vconcat":[
{"hconcat":[
{"title":{"text":"A","anchor":"start","frame":"bounds","fontSize":13.5,"dx":-10,"offset":-12,"baseline":"alphabetic"},
 "vconcat":[{
 "title":{"text":"Melanoma PRS (P <= 5E-9)","anchor":"middle","frame":"group","offset":-4,"baseline":"alphabetic"},
 "width":445,"height":287,
 "encoding":{
  "y":{"field":"y","type":"quantitative","scale":{"domain":[-5.89,20,43],"range":[287,41,0],"nice":false,"zero":false},"axis":{"values":[0,5,10,15,20,25,30,35,40],"title":"- log₁₀(P - value)"}}
 },
 "layer":[
  {"data":{"name":"base"},"mark":{"type":"circle","size":34},"encoding":{"x":{"field":"x","type":"quantitative","scale":{"domain":[0,445],"nice":false,"zero":false},"axis":null},"color":{"field":"x","type":"quantitative","scale":{"type":"threshold","domain":[31.7,65,96.7,108.3,124,142.3,169,210.7,230.7,270.7,310.7,320.7,339,368.3,379,391.7],"range":["#0000FF","#008B8B","#A52A2A","#FF8C00","#FF00FF","#00008B","#698B69","#FF0000","#8B4C39","#458B00","#000000","#27408B","#B22222","#556B2F","#00FA9A","#A020F0","#7F7F7F"]},"legend":null}}},
  {"data":{"name":"eA"},"mark":"circle","encoding":{"x":{"field":"x","type":"quantitative","scale":{"domain":[0,445],"nice":false,"zero":false},"axis":null},"color":{"field":"x","type":"quantitative","scale":{"type":"threshold","domain":[31.7,65,96.7,108.3,124,142.3,169,210.7,230.7,270.7,310.7,320.7,339,368.3,379,391.7],"range":["#0000FF","#008B8B","#A52A2A","#FF8C00","#FF00FF","#00008B","#698B69","#FF0000","#8B4C39","#458B00","#000000","#27408B","#B22222","#556B2F","#00FA9A","#A020F0","#7F7F7F"]},"legend":null}}},
  {"data":{"values":[{"p":4.5}]},"mark":{"type":"rule","strokeDash":[9,6],"strokeWidth":1.3,"color":"#F08080"},"encoding":{"y":{"field":"p","type":"quantitative"}}},
  {"data":{"name":"sA"},"transform":[{"filter":"isValid(datum.sx)"}],"mark":{"type":"rule","strokeWidth":0.7,"color":"#B3B3B3"},"encoding":{"x":{"field":"x","type":"quantitative","scale":{"domain":[0,445],"nice":false,"zero":false},"axis":null},"x2":{"field":"sx"},"y2":{"field":"sy"}}},
  {"data":{"name":"sA"},"mark":{"type":"point","shape":"triangle-up","filled":true,"size":36,"opacity":1},"encoding":{"x":{"field":"x","type":"quantitative","scale":{"domain":[0,445],"nice":false,"zero":false},"axis":null},"color":{"field":"x","type":"quantitative","scale":{"type":"threshold","domain":[31.7,65,96.7,108.3,124,142.3,169,210.7,230.7,270.7,310.7,320.7,339,368.3,379,391.7],"range":["#0000FF","#008B8B","#A52A2A","#FF8C00","#FF00FF","#00008B","#698B69","#FF0000","#8B4C39","#458B00","#000000","#27408B","#B22222","#556B2F","#00FA9A","#A020F0","#7F7F7F"]},"legend":null}}},
  {"data":{"name":"sA"},"mark":{"type":"text","fontSize":7.5,"lineBreak":"\n","lineHeight":10.5,"align":"center","baseline":"middle","color":"#1A1A1A"},"encoding":{"x":{"field":"lx","type":"quantitative","scale":{"domain":[0,445],"nice":false,"zero":false},"axis":null},"y":{"field":"ly","type":"quantitative"},"text":{"field":"t","type":"nominal"}}},
  {"data":{"name":"cats"},"mark":{"type":"text","angle":45,"align":"left","baseline":"top","fontSize":8,"lineBreak":"\n","lineHeight":8.5},"encoding":{"x":{"field":"x","type":"quantitative","scale":{"domain":[0,445],"nice":false,"zero":false},"axis":null},"y":{"field":"ya","type":"quantitative"},"text":{"field":"n","type":"nominal"},"color":{"field":"x","type":"quantitative","scale":{"type":"threshold","domain":[31.7,65,96.7,108.3,124,142.3,169,210.7,230.7,270.7,310.7,320.7,339,368.3,379,391.7],"range":["#0000FF","#008B8B","#A52A2A","#FF8C00","#FF00FF","#00008B","#698B69","#FF0000","#8B4C39","#458B00","#000000","#27408B","#B22222","#556B2F","#00FA9A","#A020F0","#7F7F7F"]},"legend":null}}},
  {"data":{"name":"brk"},"mark":{"type":"text","text":"=","angle":-20,"fontSize":13,"color":"#8C8C8C"},"encoding":{"x":{"field":"x","type":"quantitative","scale":{"domain":[0,445],"nice":false,"zero":false},"axis":null}}}
 ]}]},
{"title":{"text":"B","anchor":"start","frame":"bounds","fontSize":13.5,"dx":-10,"offset":-12,"baseline":"alphabetic"},
 "vconcat":[{
 "title":{"text":"Melanoma PRS (P <= 5E-8)","anchor":"middle","frame":"group","offset":-4,"baseline":"alphabetic"},
 "width":444,"height":287,
 "encoding":{
  "y":{"field":"y","type":"quantitative","scale":{"domain":[-5.89,20,61.8],"range":[287,41,0],"nice":false,"zero":false},"axis":{"values":[0,5,10,15,20,30,40,50],"title":"- log₁₀(P - value)"}}
 },
 "layer":[
  {"data":{"name":"base"},"mark":{"type":"circle","size":34},"encoding":{"x":{"field":"x","type":"quantitative","scale":{"domain":[0,445],"nice":false,"zero":false},"axis":null},"color":{"field":"x","type":"quantitative","scale":{"type":"threshold","domain":[31.7,65,96.7,108.3,124,142.3,169,210.7,230.7,270.7,310.7,320.7,339,368.3,379,391.7],"range":["#0000FF","#008B8B","#A52A2A","#FF8C00","#FF00FF","#00008B","#698B69","#FF0000","#8B4C39","#458B00","#000000","#27408B","#B22222","#556B2F","#00FA9A","#A020F0","#7F7F7F"]},"legend":null}}},
  {"data":{"name":"eB"},"mark":"circle","encoding":{"x":{"field":"x","type":"quantitative","scale":{"domain":[0,445],"nice":false,"zero":false},"axis":null},"color":{"field":"x","type":"quantitative","scale":{"type":"threshold","domain":[31.7,65,96.7,108.3,124,142.3,169,210.7,230.7,270.7,310.7,320.7,339,368.3,379,391.7],"range":["#0000FF","#008B8B","#A52A2A","#FF8C00","#FF00FF","#00008B","#698B69","#FF0000","#8B4C39","#458B00","#000000","#27408B","#B22222","#556B2F","#00FA9A","#A020F0","#7F7F7F"]},"legend":null}}},
  {"data":{"values":[{"p":4.5}]},"mark":{"type":"rule","strokeDash":[9,6],"strokeWidth":1.3,"color":"#F08080"},"encoding":{"y":{"field":"p","type":"quantitative"}}},
  {"data":{"name":"sB"},"transform":[{"filter":"isValid(datum.sx)"}],"mark":{"type":"rule","strokeWidth":0.7,"color":"#B3B3B3"},"encoding":{"x":{"field":"x","type":"quantitative","scale":{"domain":[0,445],"nice":false,"zero":false},"axis":null},"x2":{"field":"sx"},"y2":{"field":"sy"}}},
  {"data":{"name":"sB"},"mark":{"type":"point","shape":"triangle-up","filled":true,"size":36,"opacity":1},"encoding":{"x":{"field":"x","type":"quantitative","scale":{"domain":[0,445],"nice":false,"zero":false},"axis":null},"color":{"field":"x","type":"quantitative","scale":{"type":"threshold","domain":[31.7,65,96.7,108.3,124,142.3,169,210.7,230.7,270.7,310.7,320.7,339,368.3,379,391.7],"range":["#0000FF","#008B8B","#A52A2A","#FF8C00","#FF00FF","#00008B","#698B69","#FF0000","#8B4C39","#458B00","#000000","#27408B","#B22222","#556B2F","#00FA9A","#A020F0","#7F7F7F"]},"legend":null}}},
  {"data":{"name":"sB"},"mark":{"type":"text","fontSize":7.5,"lineBreak":"\n","lineHeight":10.5,"align":"center","baseline":"middle","color":"#1A1A1A"},"encoding":{"x":{"field":"lx","type":"quantitative","scale":{"domain":[0,445],"nice":false,"zero":false},"axis":null},"y":{"field":"ly","type":"quantitative"},"text":{"field":"t","type":"nominal"}}},
  {"data":{"name":"cats"},"mark":{"type":"text","angle":45,"align":"left","baseline":"top","fontSize":8,"lineBreak":"\n","lineHeight":8.5},"encoding":{"x":{"field":"x","type":"quantitative","scale":{"domain":[0,445],"nice":false,"zero":false},"axis":null},"y":{"field":"ya","type":"quantitative"},"text":{"field":"n","type":"nominal"},"color":{"field":"x","type":"quantitative","scale":{"type":"threshold","domain":[31.7,65,96.7,108.3,124,142.3,169,210.7,230.7,270.7,310.7,320.7,339,368.3,379,391.7],"range":["#0000FF","#008B8B","#A52A2A","#FF8C00","#FF00FF","#00008B","#698B69","#FF0000","#8B4C39","#458B00","#000000","#27408B","#B22222","#556B2F","#00FA9A","#A020F0","#7F7F7F"]},"legend":null}}},
  {"data":{"name":"brk"},"mark":{"type":"text","text":"=","angle":-20,"fontSize":13,"color":"#8C8C8C"},"encoding":{"x":{"field":"x","type":"quantitative","scale":{"domain":[0,445],"nice":false,"zero":false},"axis":null}}}
 ]}]}
],"spacing":6},
{"hconcat":[
{"title":{"text":"C","anchor":"start","frame":"bounds","fontSize":13.5,"dx":-10,"offset":-12,"baseline":"alphabetic"},
 "vconcat":[{
 "title":{"text":"Melanoma PRS (P <= 5E-7)","anchor":"middle","frame":"group","offset":-4,"baseline":"alphabetic"},
 "width":445,"height":287,
 "encoding":{
  "y":{"field":"y","type":"quantitative","scale":{"domain":[-5.89,20,61.8],"range":[287,41,0],"nice":false,"zero":false},"axis":{"values":[0,5,10,15,20,30,40,50],"title":"- log₁₀(P - value)"}}
 },
 "layer":[
  {"data":{"name":"base"},"mark":{"type":"circle","size":34},"encoding":{"x":{"field":"x","type":"quantitative","scale":{"domain":[0,445],"nice":false,"zero":false},"axis":null},"color":{"field":"x","type":"quantitative","scale":{"type":"threshold","domain":[31.7,65,96.7,108.3,124,142.3,169,210.7,230.7,270.7,310.7,320.7,339,368.3,379,391.7],"range":["#0000FF","#008B8B","#A52A2A","#FF8C00","#FF00FF","#00008B","#698B69","#FF0000","#8B4C39","#458B00","#000000","#27408B","#B22222","#556B2F","#00FA9A","#A020F0","#7F7F7F"]},"legend":null}}},
  {"data":{"name":"eC"},"mark":"circle","encoding":{"x":{"field":"x","type":"quantitative","scale":{"domain":[0,445],"nice":false,"zero":false},"axis":null},"color":{"field":"x","type":"quantitative","scale":{"type":"threshold","domain":[31.7,65,96.7,108.3,124,142.3,169,210.7,230.7,270.7,310.7,320.7,339,368.3,379,391.7],"range":["#0000FF","#008B8B","#A52A2A","#FF8C00","#FF00FF","#00008B","#698B69","#FF0000","#8B4C39","#458B00","#000000","#27408B","#B22222","#556B2F","#00FA9A","#A020F0","#7F7F7F"]},"legend":null}}},
  {"data":{"values":[{"p":4.5}]},"mark":{"type":"rule","strokeDash":[9,6],"strokeWidth":1.3,"color":"#F08080"},"encoding":{"y":{"field":"p","type":"quantitative"}}},
  {"data":{"name":"sC"},"transform":[{"filter":"isValid(datum.sx)"}],"mark":{"type":"rule","strokeWidth":0.7,"color":"#B3B3B3"},"encoding":{"x":{"field":"x","type":"quantitative","scale":{"domain":[0,445],"nice":false,"zero":false},"axis":null},"x2":{"field":"sx"},"y2":{"field":"sy"}}},
  {"data":{"name":"sC"},"mark":{"type":"point","shape":"triangle-up","filled":true,"size":36,"opacity":1},"encoding":{"x":{"field":"x","type":"quantitative","scale":{"domain":[0,445],"nice":false,"zero":false},"axis":null},"color":{"field":"x","type":"quantitative","scale":{"type":"threshold","domain":[31.7,65,96.7,108.3,124,142.3,169,210.7,230.7,270.7,310.7,320.7,339,368.3,379,391.7],"range":["#0000FF","#008B8B","#A52A2A","#FF8C00","#FF00FF","#00008B","#698B69","#FF0000","#8B4C39","#458B00","#000000","#27408B","#B22222","#556B2F","#00FA9A","#A020F0","#7F7F7F"]},"legend":null}}},
  {"data":{"name":"sC"},"mark":{"type":"text","fontSize":7.5,"lineBreak":"\n","lineHeight":10.5,"align":"center","baseline":"middle","color":"#1A1A1A"},"encoding":{"x":{"field":"lx","type":"quantitative","scale":{"domain":[0,445],"nice":false,"zero":false},"axis":null},"y":{"field":"ly","type":"quantitative"},"text":{"field":"t","type":"nominal"}}},
  {"data":{"name":"cats"},"mark":{"type":"text","angle":45,"align":"left","baseline":"top","fontSize":8,"lineBreak":"\n","lineHeight":8.5},"encoding":{"x":{"field":"x","type":"quantitative","scale":{"domain":[0,445],"nice":false,"zero":false},"axis":null},"y":{"field":"ya","type":"quantitative"},"text":{"field":"n","type":"nominal"},"color":{"field":"x","type":"quantitative","scale":{"type":"threshold","domain":[31.7,65,96.7,108.3,124,142.3,169,210.7,230.7,270.7,310.7,320.7,339,368.3,379,391.7],"range":["#0000FF","#008B8B","#A52A2A","#FF8C00","#FF00FF","#00008B","#698B69","#FF0000","#8B4C39","#458B00","#000000","#27408B","#B22222","#556B2F","#00FA9A","#A020F0","#7F7F7F"]},"legend":null}}},
  {"data":{"name":"brk"},"mark":{"type":"text","text":"=","angle":-20,"fontSize":13,"color":"#8C8C8C"},"encoding":{"x":{"field":"x","type":"quantitative","scale":{"domain":[0,445],"nice":false,"zero":false},"axis":null}}}
 ]}]},
{"title":{"text":"D","anchor":"start","frame":"bounds","fontSize":13.5,"dx":-10,"offset":-12,"baseline":"alphabetic"},
 "vconcat":[{
 "title":{"text":"Melanoma PRS (P <= 5E-6)","anchor":"middle","frame":"group","offset":-4,"baseline":"alphabetic"},
 "width":444,"height":287,
 "encoding":{
  "y":{"field":"y","type":"quantitative","scale":{"domain":[-5.89,20,44.1],"range":[287,41,0],"nice":false,"zero":false},"axis":{"values":[0,5,10,15,20,25,30,35,40],"title":"- log₁₀(P - value)"}}
 },
 "layer":[
  {"data":{"name":"base"},"mark":{"type":"circle","size":34},"encoding":{"x":{"field":"x","type":"quantitative","scale":{"domain":[0,445],"nice":false,"zero":false},"axis":null},"color":{"field":"x","type":"quantitative","scale":{"type":"threshold","domain":[31.7,65,96.7,108.3,124,142.3,169,210.7,230.7,270.7,310.7,320.7,339,368.3,379,391.7],"range":["#0000FF","#008B8B","#A52A2A","#FF8C00","#FF00FF","#00008B","#698B69","#FF0000","#8B4C39","#458B00","#000000","#27408B","#B22222","#556B2F","#00FA9A","#A020F0","#7F7F7F"]},"legend":null}}},
  {"data":{"name":"eD"},"mark":"circle","encoding":{"x":{"field":"x","type":"quantitative","scale":{"domain":[0,445],"nice":false,"zero":false},"axis":null},"color":{"field":"x","type":"quantitative","scale":{"type":"threshold","domain":[31.7,65,96.7,108.3,124,142.3,169,210.7,230.7,270.7,310.7,320.7,339,368.3,379,391.7],"range":["#0000FF","#008B8B","#A52A2A","#FF8C00","#FF00FF","#00008B","#698B69","#FF0000","#8B4C39","#458B00","#000000","#27408B","#B22222","#556B2F","#00FA9A","#A020F0","#7F7F7F"]},"legend":null}}},
  {"data":{"values":[{"p":4.5}]},"mark":{"type":"rule","strokeDash":[9,6],"strokeWidth":1.3,"color":"#F08080"},"encoding":{"y":{"field":"p","type":"quantitative"}}},
  {"data":{"name":"sD"},"transform":[{"filter":"isValid(datum.sx)"}],"mark":{"type":"rule","strokeWidth":0.7,"color":"#B3B3B3"},"encoding":{"x":{"field":"x","type":"quantitative","scale":{"domain":[0,445],"nice":false,"zero":false},"axis":null},"x2":{"field":"sx"},"y2":{"field":"sy"}}},
  {"data":{"name":"sD"},"mark":{"type":"point","shape":"triangle-up","filled":true,"size":36,"opacity":1},"encoding":{"x":{"field":"x","type":"quantitative","scale":{"domain":[0,445],"nice":false,"zero":false},"axis":null},"color":{"field":"x","type":"quantitative","scale":{"type":"threshold","domain":[31.7,65,96.7,108.3,124,142.3,169,210.7,230.7,270.7,310.7,320.7,339,368.3,379,391.7],"range":["#0000FF","#008B8B","#A52A2A","#FF8C00","#FF00FF","#00008B","#698B69","#FF0000","#8B4C39","#458B00","#000000","#27408B","#B22222","#556B2F","#00FA9A","#A020F0","#7F7F7F"]},"legend":null}}},
  {"data":{"name":"sD"},"mark":{"type":"text","fontSize":7.5,"lineBreak":"\n","lineHeight":10.5,"align":"center","baseline":"middle","color":"#1A1A1A"},"encoding":{"x":{"field":"lx","type":"quantitative","scale":{"domain":[0,445],"nice":false,"zero":false},"axis":null},"y":{"field":"ly","type":"quantitative"},"text":{"field":"t","type":"nominal"}}},
  {"data":{"name":"cats"},"mark":{"type":"text","angle":45,"align":"left","baseline":"top","fontSize":8,"lineBreak":"\n","lineHeight":8.5},"encoding":{"x":{"field":"x","type":"quantitative","scale":{"domain":[0,445],"nice":false,"zero":false},"axis":null},"y":{"field":"ya","type":"quantitative"},"text":{"field":"n","type":"nominal"},"color":{"field":"x","type":"quantitative","scale":{"type":"threshold","domain":[31.7,65,96.7,108.3,124,142.3,169,210.7,230.7,270.7,310.7,320.7,339,368.3,379,391.7],"range":["#0000FF","#008B8B","#A52A2A","#FF8C00","#FF00FF","#00008B","#698B69","#FF0000","#8B4C39","#458B00","#000000","#27408B","#B22222","#556B2F","#00FA9A","#A020F0","#7F7F7F"]},"legend":null}}},
  {"data":{"name":"brk"},"mark":{"type":"text","text":"=","angle":-20,"fontSize":13,"color":"#8C8C8C"},"encoding":{"x":{"field":"x","type":"quantitative","scale":{"domain":[0,445],"nice":false,"zero":false},"axis":null}}}
 ]}]}
],"spacing":6},
{"hconcat":[
{"title":{"text":"E","anchor":"start","frame":"bounds","fontSize":13.5,"dx":-10,"offset":-12,"baseline":"alphabetic"},
 "vconcat":[{
 "title":{"text":"Melanoma PRS (P <= 5E-5)","anchor":"middle","frame":"group","offset":-4,"baseline":"alphabetic"},
 "width":445,"height":286,
 "encoding":{
  "y":{"field":"y","type":"quantitative","scale":{"domain":[-5.0,20.5],"nice":false,"zero":false},"axis":{"values":[0,5,10,15],"title":"- log₁₀(P - value)"}}
 },
 "layer":[
  {"data":{"name":"base"},"mark":{"type":"circle","size":34},"encoding":{"x":{"field":"x","type":"quantitative","scale":{"domain":[0,445],"nice":false,"zero":false},"axis":null},"color":{"field":"x","type":"quantitative","scale":{"type":"threshold","domain":[31.7,65,96.7,108.3,124,142.3,169,210.7,230.7,270.7,310.7,320.7,339,368.3,379,391.7],"range":["#0000FF","#008B8B","#A52A2A","#FF8C00","#FF00FF","#00008B","#698B69","#FF0000","#8B4C39","#458B00","#000000","#27408B","#B22222","#556B2F","#00FA9A","#A020F0","#7F7F7F"]},"legend":null}}},
  {"data":{"name":"eE"},"mark":"circle","encoding":{"x":{"field":"x","type":"quantitative","scale":{"domain":[0,445],"nice":false,"zero":false},"axis":null},"color":{"field":"x","type":"quantitative","scale":{"type":"threshold","domain":[31.7,65,96.7,108.3,124,142.3,169,210.7,230.7,270.7,310.7,320.7,339,368.3,379,391.7],"range":["#0000FF","#008B8B","#A52A2A","#FF8C00","#FF00FF","#00008B","#698B69","#FF0000","#8B4C39","#458B00","#000000","#27408B","#B22222","#556B2F","#00FA9A","#A020F0","#7F7F7F"]},"legend":null}}},
  {"data":{"values":[{"p":4.53}]},"mark":{"type":"rule","strokeDash":[9,6],"strokeWidth":1.3,"color":"#F08080"},"encoding":{"y":{"field":"p","type":"quantitative"}}},
  {"data":{"name":"sE"},"mark":{"type":"point","shape":"triangle-up","filled":true,"size":36,"opacity":1},"encoding":{"x":{"field":"x","type":"quantitative","scale":{"domain":[0,445],"nice":false,"zero":false},"axis":null},"color":{"field":"x","type":"quantitative","scale":{"type":"threshold","domain":[31.7,65,96.7,108.3,124,142.3,169,210.7,230.7,270.7,310.7,320.7,339,368.3,379,391.7],"range":["#0000FF","#008B8B","#A52A2A","#FF8C00","#FF00FF","#00008B","#698B69","#FF0000","#8B4C39","#458B00","#000000","#27408B","#B22222","#556B2F","#00FA9A","#A020F0","#7F7F7F"]},"legend":null}}},
  {"data":{"name":"sE"},"mark":{"type":"text","fontSize":7.5,"lineBreak":"\n","lineHeight":10.5,"align":"center","baseline":"middle","color":"#1A1A1A"},"encoding":{"x":{"field":"lx","type":"quantitative","scale":{"domain":[0,445],"nice":false,"zero":false},"axis":null},"y":{"field":"ly","type":"quantitative"},"text":{"field":"t","type":"nominal"}}},
  {"data":{"name":"cats"},"mark":{"type":"text","angle":45,"align":"left","baseline":"top","fontSize":8,"lineBreak":"\n","lineHeight":8.5},"encoding":{"x":{"field":"x","type":"quantitative","scale":{"domain":[0,445],"nice":false,"zero":false},"axis":null},"y":{"field":"ye","type":"quantitative"},"text":{"field":"n","type":"nominal"},"color":{"field":"x","type":"quantitative","scale":{"type":"threshold","domain":[31.7,65,96.7,108.3,124,142.3,169,210.7,230.7,270.7,310.7,320.7,339,368.3,379,391.7],"range":["#0000FF","#008B8B","#A52A2A","#FF8C00","#FF00FF","#00008B","#698B69","#FF0000","#8B4C39","#458B00","#000000","#27408B","#B22222","#556B2F","#00FA9A","#A020F0","#7F7F7F"]},"legend":null}}}
 ]}]},
{"title":{"text":"F","anchor":"start","frame":"bounds","fontSize":13.5,"dx":-10,"offset":-12,"baseline":"alphabetic"},
 "vconcat":[{
 "title":{"text":"Melanoma PRS (P <= 5E-4)","anchor":"middle","frame":"group","offset":-4,"baseline":"alphabetic"},
 "width":450,"height":286,
 "encoding":{
  "y":{"field":"y","type":"quantitative","scale":{"domain":[-1.2,4.93],"nice":false,"zero":false},"axis":{"values":[0,1,2,3,4],"title":"- log₁₀(P - value)"}}
 },
 "layer":[
  {"data":{"name":"f"},"mark":{"type":"circle","size":22},"encoding":{"x":{"field":"x","type":"quantitative","scale":{"domain":[0,445],"nice":false,"zero":false},"axis":null},"color":{"field":"x","type":"quantitative","scale":{"type":"threshold","domain":[31.7,65,96.7,108.3,124,142.3,169,210.7,230.7,270.7,310.7,320.7,339,368.3,379,391.7],"range":["#0000FF","#008B8B","#A52A2A","#FF8C00","#FF00FF","#00008B","#698B69","#FF0000","#8B4C39","#458B00","#000000","#27408B","#B22222","#556B2F","#00FA9A","#A020F0","#7F7F7F"]},"legend":null}}},
  {"data":{"values":[{"p":4.5}]},"mark":{"type":"rule","strokeDash":[9,6],"strokeWidth":1.3,"color":"#F08080"},"encoding":{"y":{"field":"p","type":"quantitative"}}},
  {"data":{"name":"sF"},"mark":{"type":"point","shape":"triangle-up","filled":true,"size":36,"opacity":1},"encoding":{"x":{"field":"x","type":"quantitative","scale":{"domain":[0,445],"nice":false,"zero":false},"axis":null},"color":{"field":"x","type":"quantitative","scale":{"type":"threshold","domain":[31.7,65,96.7,108.3,124,142.3,169,210.7,230.7,270.7,310.7,320.7,339,368.3,379,391.7],"range":["#0000FF","#008B8B","#A52A2A","#FF8C00","#FF00FF","#00008B","#698B69","#FF0000","#8B4C39","#458B00","#000000","#27408B","#B22222","#556B2F","#00FA9A","#A020F0","#7F7F7F"]},"legend":null}}},
  {"data":{"name":"sF"},"mark":{"type":"text","fontSize":7.5,"lineBreak":"\n","lineHeight":10.5,"align":"center","baseline":"middle","color":"#1A1A1A"},"encoding":{"x":{"field":"lx","type":"quantitative","scale":{"domain":[0,445],"nice":false,"zero":false},"axis":null},"y":{"field":"ly","type":"quantitative"},"text":{"field":"t","type":"nominal"}}},
  {"data":{"name":"cats"},"mark":{"type":"text","angle":45,"align":"left","baseline":"top","fontSize":8,"lineBreak":"\n","lineHeight":8.5},"encoding":{"x":{"field":"x","type":"quantitative","scale":{"domain":[0,445],"nice":false,"zero":false},"axis":null},"y":{"field":"yf","type":"quantitative"},"text":{"field":"n","type":"nominal"},"color":{"field":"x","type":"quantitative","scale":{"type":"threshold","domain":[31.7,65,96.7,108.3,124,142.3,169,210.7,230.7,270.7,310.7,320.7,339,368.3,379,391.7],"range":["#0000FF","#008B8B","#A52A2A","#FF8C00","#FF00FF","#00008B","#698B69","#FF0000","#8B4C39","#458B00","#000000","#27408B","#B22222","#556B2F","#00FA9A","#A020F0","#7F7F7F"]},"legend":null}}}
 ]}]}
],"spacing":6}
],
"spacing":6
}
